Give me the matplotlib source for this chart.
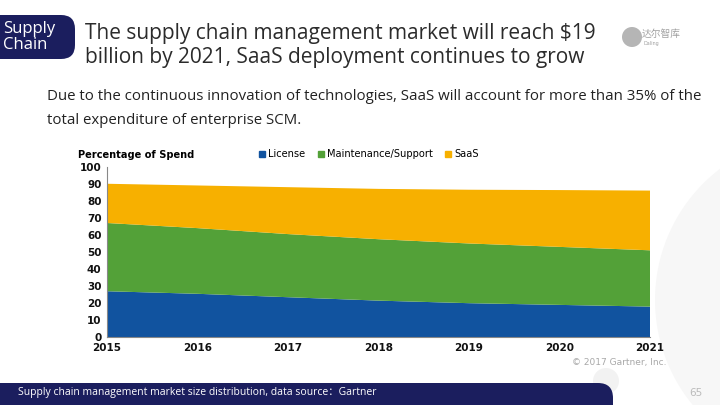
import matplotlib.pyplot as plt
from matplotlib.patches import FancyBboxPatch, Circle
from matplotlib.lines import Line2D

years = [2015, 2016, 2017, 2018, 2019, 2020, 2021]
license_share = [27, 25.5, 23.5, 21.5, 20, 19, 18]
maintenance_share = [40, 38.5, 37, 36, 35, 34, 33]
saas_share = [23, 25, 27.5, 29.5, 31.5, 33.3, 35]
series_names = ["License", "Maintenance/Support", "SaaS"]
yticks = [0, 10, 20, 30, 40, 50, 60, 70, 80, 90, 100]

colors = ["#11539F", "#53A138", "#F7B000"]
navy = "#1B1E5E"
W, H = 720, 405

fig = plt.figure(figsize=(7.2, 4.05), dpi=100)
fig.patch.set_facecolor("white")

# background layer in pixel coordinates
bg = fig.add_axes([0, 0, 1, 1], zorder=0)
bg.set_xlim(0, W)
bg.set_ylim(H, 0)
bg.axis("off")

# faint decoration circles
bg.add_patch(Circle((820, 300), 165, facecolor="#F7F7F7", edgecolor="none"))
bg.add_patch(Circle((606, 381), 13, facecolor="#F2F2F2", edgecolor="none"))

# header box
bg.add_patch(FancyBboxPatch((-20, 15), 95, 44, boxstyle="round,pad=0,rounding_size=14",
                            facecolor=navy, edgecolor="none"))
bg.text(3, 37, "Supply\nChain", color="white", fontsize=12, family="Open Sans",
        va="center", ha="left", linespacing=1.05)

bg.text(85, 34, "The supply chain management market will reach $19",
        fontsize=15, color="#2B2B2B", family="Open Sans", va="center")
bg.text(85, 58, "billion by 2021, SaaS deployment continues to grow",
        fontsize=15, color="#2B2B2B", family="Open Sans", va="center")

# logo
bg.add_patch(Circle((632, 37), 10, facecolor="#B5B5B5", edgecolor="none"))
bg.text(642, 34, "达尔智库", fontsize=7, color="#A0A0A0",
        family=["Noto Sans CJK SC", "DejaVu Sans"], va="center")
bg.text(643, 44, "Daling", fontsize=3.5, color="#A0A0A0", va="center")

bg.text(47, 97, "Due to the continuous innovation of technologies, SaaS will account for more than 35% of the",
        fontsize=10.8, color="#222222", family="Open Sans", va="center")
bg.text(47, 121, "total expenditure of enterprise SCM.",
        fontsize=10.8, color="#222222", family="Open Sans", va="center")

# chart
ax = fig.add_axes([107 / W, 1 - 337.3 / H, (650 - 107) / W, (337.3 - 166.7) / H], zorder=2)
ax.stackplot(years, license_share, maintenance_share, saas_share,
             colors=colors, linewidth=0)
ax.set_xlim(years[0], years[-1])
ax.set_ylim(0, 100)
ax.set_yticks(yticks)
ax.set_xticks(years)
for s in ["top", "right"]:
    ax.spines[s].set_visible(False)
ax.spines["left"].set_color("#888888")
ax.spines["bottom"].set_color("#888888")
ax.tick_params(length=0, labelsize=7.5, pad=4, colors="#111111")
for lbl in ax.get_xticklabels() + ax.get_yticklabels():
    lbl.set_fontweight("bold")
ax.set_facecolor("none")

bg.text(78, 155, "Percentage of Spend", fontsize=7.1, fontweight="bold", va="center")
handles = [Line2D([], [], marker="s", ls="", color=c, markersize=4.3) for c in colors]
fig.legend(handles, series_names, loc="center left", bbox_to_anchor=(250 / W, 1 - 154 / H),
           ncol=3, frameon=False, handlelength=0.6, handletextpad=0.3,
           columnspacing=1.3, prop={"size": 7.1})

bg.text(666, 362, "© 2017 Gartner, Inc.", fontsize=6.5, color="#A8A8A8",
        ha="right", va="center")

# footer bar
bg.add_patch(FancyBboxPatch((-30, 383), 643, 40, boxstyle="round,pad=0,rounding_size=15",
                            facecolor=navy, edgecolor="none"))
bg.text(18, 392, "Supply chain management market size distribution, data source：Gartner",
        fontsize=7.5, color="white", family=["Open Sans", "Noto Sans CJK SC"], va="center")
bg.text(702, 393, "65", fontsize=7.5, color="#BBBBBB", ha="right", va="center")

fig.savefig("out.png", dpi=100)
